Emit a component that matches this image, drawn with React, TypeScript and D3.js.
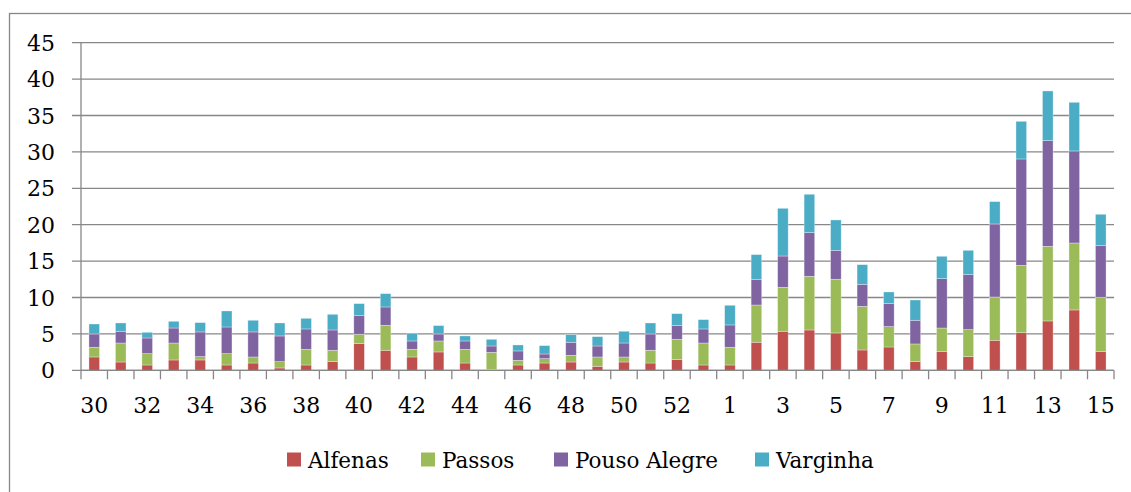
import * as d3 from "d3";
import { useMemo } from "react";

const WIDTH = 1131;
const HEIGHT = 492;

// weeks 30..53 of the first year, then 1..15
const weeks = [
  "30", "31", "32", "33", "34", "35", "36", "37", "38", "39", "40", "41",
  "42", "43", "44", "45", "46", "47", "48", "49", "50", "51", "52", "53",
  "1", "2", "3", "4", "5", "6", "7", "8", "9", "10", "11", "12", "13", "14", "15",
];

const alfenas = [
  1.83, 1.14, 0.73, 1.42, 1.42, 0.73, 1.0, 0.32, 0.73, 1.19, 3.66, 2.75,
  1.83, 2.52, 1.0, 0.09, 0.73, 1.0, 1.14, 0.55, 1.14, 1.0, 1.47, 0.73,
  0.73, 3.85, 5.36, 5.54, 5.13, 2.79, 3.2, 1.19, 2.56, 1.88, 4.12, 5.17, 6.78, 8.29, 2.56,
];
const passos = [
  1.33, 2.61, 1.56, 2.33, 0.46, 1.56, 0.83, 0.87, 2.15, 1.56, 1.29, 3.43,
  1.05, 1.51, 1.88, 2.38, 0.64, 0.6, 0.92, 1.28, 0.69, 1.75, 2.79, 3.02,
  2.43, 5.12, 6.04, 7.37, 7.37, 6.0, 2.8, 2.43, 3.25, 3.71, 5.95, 9.25, 10.25, 9.2, 7.47,
];
const pousoAlegre = [
  1.83, 1.61, 2.15, 2.06, 3.39, 3.66, 3.44, 3.53, 2.8, 2.79, 2.56, 2.52,
  1.15, 0.96, 1.15, 0.87, 1.29, 0.64, 1.79, 1.51, 1.92, 2.24, 1.88, 1.93,
  3.07, 3.53, 4.3, 6.0, 3.98, 3.02, 3.2, 3.25, 6.78, 7.55, 10.03, 14.61, 14.52, 12.64, 7.09,
];
const varginha = [
  1.37, 1.14, 0.78, 0.92, 1.28, 2.2, 1.6, 1.78, 1.46, 2.15, 1.65, 1.83,
  1.05, 1.15, 0.69, 0.92, 0.82, 1.15, 1.05, 1.28, 1.61, 1.51, 1.64, 1.28,
  2.7, 3.39, 6.55, 5.27, 4.17, 2.7, 1.56, 2.79, 3.07, 3.34, 3.07, 5.17, 6.82, 6.68, 4.31,
];

const seriesNames = ["Alfenas", "Passos", "Pouso Alegre", "Varginha"];
const colors = ["#C0504D", "#9BBB59", "#8064A2", "#4BACC6"];
const yTicks = [0, 5, 10, 15, 20, 25, 30, 35, 40, 45];

// legend swatch x positions (measured off the layout)
const legendX = [287, 421, 554, 755];

const FONT = "'DejaVu Serif', serif";
const GRID = "#878787";

const PLOT = { left: 81, right: 1114, top: 42.7, bottom: 370.3 };

export default function App() {
  const rows = useMemo(
    () =>
      weeks.map((w, i) => ({
        week: w,
        Alfenas: alfenas[i],
        Passos: passos[i],
        "Pouso Alegre": pousoAlegre[i],
        Varginha: varginha[i],
      })),
    []
  );

  const stacked = useMemo(() => d3.stack<any>().keys(seriesNames)(rows), [rows]);

  const xScale = d3
    .scaleBand()
    .domain(weeks)
    .range([PLOT.left, PLOT.right])
    .paddingInner(0.6)
    .paddingOuter(0.3);

  const yScale = d3.scaleLinear().domain([0, 45]).range([PLOT.bottom, PLOT.top]);

  const step = xScale.step();
  const boundaries = d3.range(weeks.length + 1).map((i) => PLOT.left + i * step);

  return (
    <div style={{ position: "fixed", left: 0, top: 0 }}>
      <svg width={WIDTH} height={HEIGHT} style={{ display: "block", background: "white" }}>
        <rect x={9.5} y={13.5} width={1300} height={700} fill="white" stroke={GRID} strokeWidth={1.3} />

        {/* gridlines + y ticks */}
        {yTicks.map((t) => (
          <line
            key={"g" + t}
            x1={72}
            x2={PLOT.right}
            y1={yScale(t)}
            y2={yScale(t)}
            stroke={GRID}
            strokeWidth={1.3}
          />
        ))}
        {yTicks.map((t) => (
          <text
            key={"yl" + t}
            x={55}
            y={yScale(t) + 8}
            textAnchor="end"
            fontFamily={FONT}
            fontSize={22}
            fill="#000"
          >
            {t}
          </text>
        ))}

        {/* bars */}
        {stacked.map((layer, si) => (
          <g key={layer.key} fill={colors[si]}>
            {layer.map((d, i) => (
              <rect
                key={i}
                x={xScale(weeks[i])}
                y={yScale(d[1])}
                width={xScale.bandwidth()}
                height={Math.max(0, yScale(d[0]) - yScale(d[1]))}
                stroke="rgba(255,255,255,0.45)"
                strokeWidth={0.7}
              />
            ))}
          </g>
        ))}

        {/* axes */}
        <line x1={PLOT.left} x2={PLOT.left} y1={PLOT.top} y2={PLOT.bottom} stroke={GRID} strokeWidth={1.3} />
        <line x1={PLOT.left} x2={PLOT.right} y1={PLOT.bottom} y2={PLOT.bottom} stroke={GRID} strokeWidth={1.3} />
        {boundaries.map((bx, i) => (
          <line key={"xt" + i} x1={bx} x2={bx} y1={PLOT.bottom} y2={PLOT.bottom + 9} stroke={GRID} strokeWidth={1.3} />
        ))}
        {weeks.map((w, i) =>
          i % 2 === 0 ? (
            <text
              key={"xl" + w}
              x={(xScale(w) ?? 0) + xScale.bandwidth() / 2}
              y={413}
              textAnchor="middle"
              fontFamily={FONT}
              fontSize={22}
              fill="#000"
            >
              {w}
            </text>
          ) : null
        )}

        {/* legend */}
        {seriesNames.map((name, i) => (
          <g key={"lg" + name}>
            <rect x={legendX[i]} y={452.5} width={14} height={14} fill={colors[i]} />
            <text x={legendX[i] + 21} y={468} fontFamily={FONT} fontSize={21.5} fill="#000">
              {name}
            </text>
          </g>
        ))}
      </svg>
    </div>
  );
}
